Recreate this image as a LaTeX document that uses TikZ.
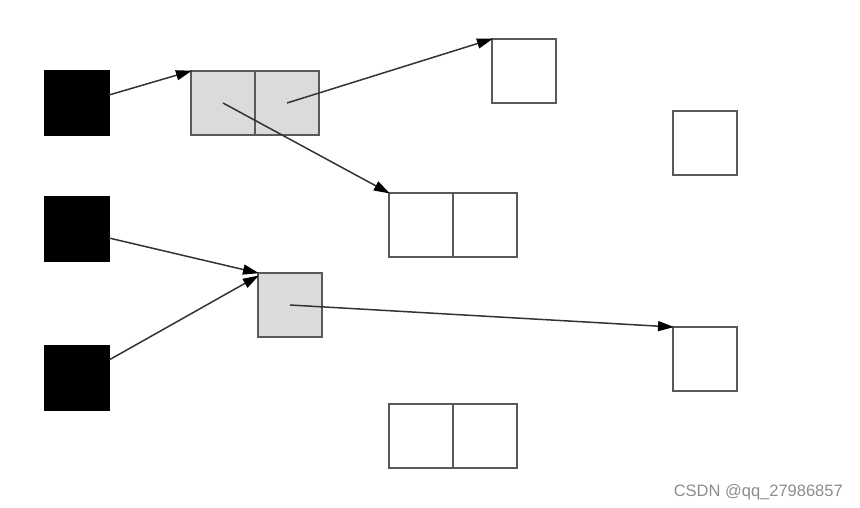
\documentclass[tikz,border=0pt]{standalone}
\usepackage{fontspec}
\newfontfamily\wmfont{Liberation Sans}
\usetikzlibrary{arrows.meta}
\begin{document}
\begin{tikzpicture}[x=1pt,y=-1pt,
  cell/.style={draw=black!65,line width=2pt,minimum width=64pt,minimum height=64pt,inner sep=0pt,outer sep=0pt,anchor=north west},
  blk/.style={cell,fill=black,draw=black},
  gry/.style={cell,fill=black!14},
  wht/.style={cell,fill=white},
  arr/.style={draw=black!80,line width=1.5pt,-{Triangle[length=16pt,width=10pt,fill=black,color=black]},shorten >=-1pt}]
\useasboundingbox (0,0) rectangle (860,508);
% black boxes
\node[blk] (k1) at (45,71) {};
\node[blk] (k2) at (45,197) {};
\node[blk] (k3) at (45,346) {};
% gray double box A
\node[gry] (a1) at (191,71) {};
\node[gry] (a2) at (255,71) {};
% gray single C
\node[gry] (c) at (258,273) {};
% white boxes
\node[wht] (t) at (492,39) {};
\node[wht] (r) at (673,111) {};
\node[wht] (b1) at (389,193) {};
\node[wht] (b2) at (453,193) {};
\node[wht] (d) at (673,327) {};
\node[wht] (e1) at (389,404) {};
\node[wht] (e2) at (453,404) {};
% connectors
\draw[arr] ([yshift=8pt]k1.east) -- (a1.north west);
\draw[arr] (a2.center) -- (t.north west);
\draw[arr] (a1.center) -- (b1.north west);
\draw[arr] ([yshift=-9pt]k2.east) -- (c.north west);
\draw[arr] ([yshift=18pt]k3.east) -- ([yshift=-3pt]c.north west);
\draw[arr] (c.center) -- (d.north west);
% watermark
\node[anchor=base east,text=black!45,font=\wmfont\fontsize{16.5pt}{19pt}\selectfont,inner sep=0pt] (wm) at (843,496) {CSDN @qq\_27986857};
\end{tikzpicture}
\end{document}
